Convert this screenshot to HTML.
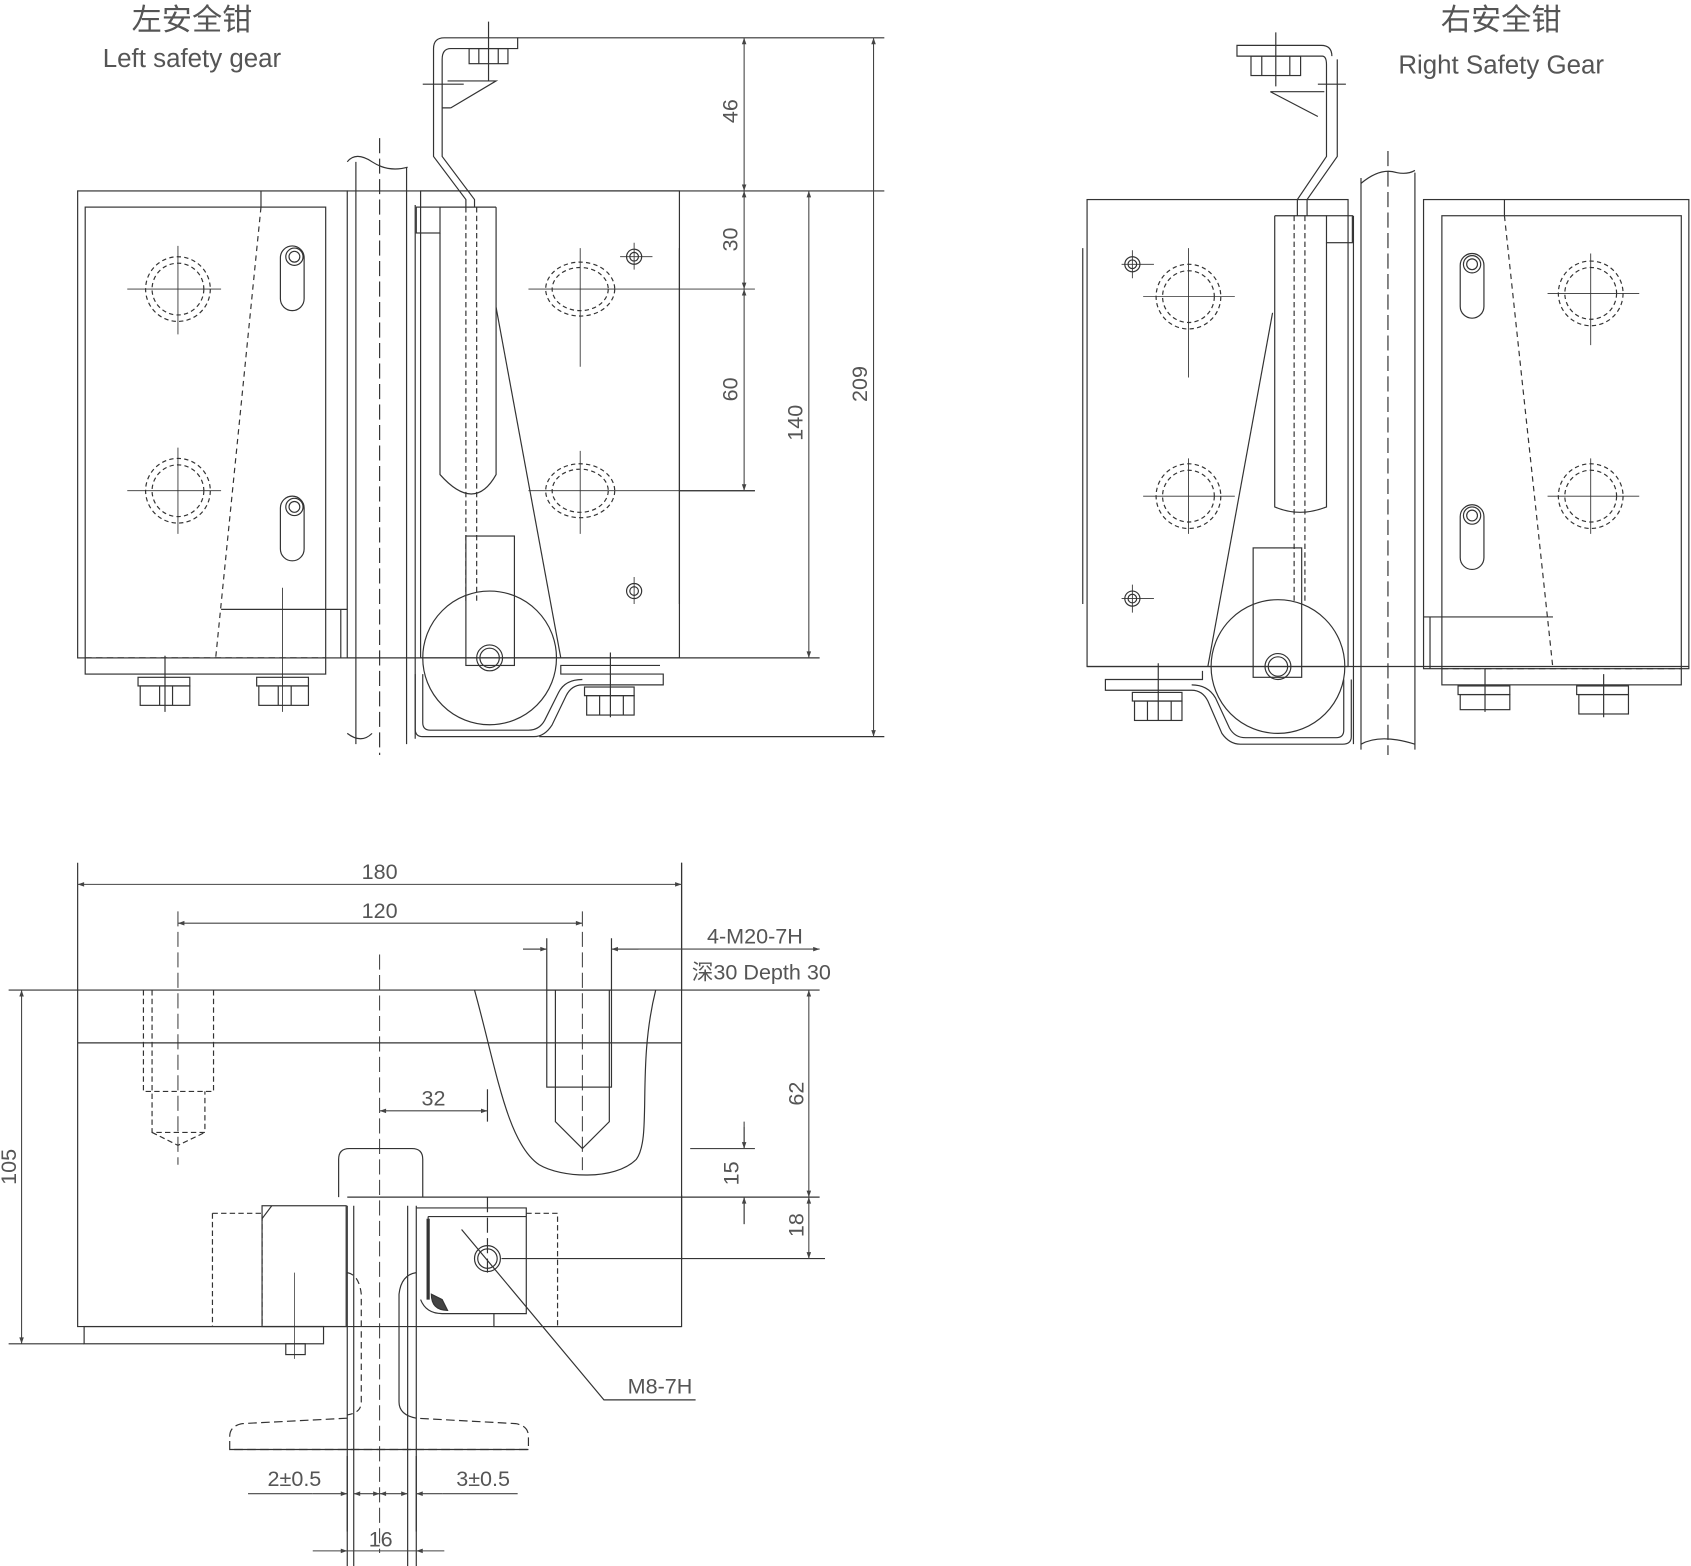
<!DOCTYPE html>
<html><head><meta charset="utf-8"><style>
html,body{margin:0;padding:0;background:#fff}
svg{display:block}
text{font-family:"Liberation Sans","Noto Sans CJK SC",sans-serif;fill:#555}
</style></head><body>
<svg width="1691" height="1566" viewBox="0 0 1568 1452" xmlns="http://www.w3.org/2000/svg">
<defs>
<marker id="a" viewBox="0 0 10 10" refX="10" refY="5" markerWidth="14" markerHeight="6" orient="auto-start-reverse" markerUnits="userSpaceOnUse"><path d="M0,1.5 L10,5 L0,8.5z" fill="#444"/></marker>
</defs>
<g fill="none" stroke="#333" stroke-width="1.1">
<!-- ===== LEFT SAFETY GEAR ===== -->
<rect x="72" y="177" width="250" height="433"/>
<rect x="79" y="192" width="223" height="433"/>
<line x1="242" y1="177" x2="242" y2="192"/>
<path d="M242,192 L200,610" stroke-dasharray="5,4"/>
<line x1="79" y1="610" x2="302" y2="610" stroke-dasharray="6,4"/>
<path d="M302,565 L205,565 M302,565 L322,565"/>
<path d="M316,565 L316,610"/>
<!-- holes -->
<g stroke-dasharray="4,3"><circle cx="165" cy="268" r="30"/><circle cx="165" cy="268" r="24"/><circle cx="165" cy="455" r="30"/><circle cx="165" cy="455" r="24"/></g>
<path d="M118,268 H205 M165,228 V310 M118,455 H205 M165,415 V495" stroke-width="0.8"/>
<rect x="260" y="228" width="22" height="60" rx="11"/><circle cx="273" cy="238" r="8"/><circle cx="273" cy="238" r="5"/>
<rect x="260" y="460" width="22" height="60" rx="11"/><circle cx="273" cy="470" r="8"/><circle cx="273" cy="470" r="5"/>
<path d="M262,545 V660" stroke-width="0.8"/>
<!-- bottom nuts left -->
<rect x="128" y="628" width="48" height="8"/><rect x="130" y="636" width="46" height="18"/>
<rect x="238" y="628" width="48" height="8"/><rect x="240" y="636" width="46" height="18"/>
<path d="M153,608 V660 M148,636 V654 M160,636 V654 M258,636 V654 M270,636 V654"/>
<!-- rail -->
<path d="M322,150 Q330,140 345,150 Q360,160 378,155 M322,680 Q335,690 345,680"/>
<path d="M330,150 V690 M377,155 V690 M385,190 V685"/>
<line x1="352" y1="128" x2="352" y2="700" stroke-dasharray="14,5"/>
<!-- right block -->
<rect x="390" y="177" width="240" height="433"/>
<line x1="322" y1="177" x2="820" y2="177"/>
<line x1="630" y1="230" x2="630" y2="560"/>
<rect x="386" y="192" width="22" height="24"/>
<path d="M408,192 H460 M408,216 V440 Q440,476 460,440 V192"/>
<path d="M432,192 V560 M442,192 V560" stroke-dasharray="5,3"/>
<path d="M460,285 L520,610"/>
<rect x="432" y="497" width="45" height="120"/>
<g stroke-dasharray="4,3"><ellipse cx="538" cy="268" rx="32" ry="25"/><ellipse cx="538" cy="268" rx="26" ry="20"/><ellipse cx="538" cy="455" rx="32" ry="25"/><ellipse cx="538" cy="455" rx="26" ry="20"/></g>
<path d="M490,268 H700 M538,230 V340 M490,455 H700 M538,418 V495 M575,238 H605 M588,225 V250 M588,535 V560" stroke-width="0.8"/>
<circle cx="588" cy="238" r="7"/><circle cx="588" cy="238" r="4"/><circle cx="588" cy="548" r="7"/><circle cx="588" cy="548" r="4"/>
<!-- roller -->
<circle cx="454" cy="610" r="62"/>
<circle cx="454" cy="610" r="12"/><circle cx="454" cy="610" r="9"/>
<line x1="322" y1="610" x2="760" y2="610"/>
<!-- bottom bracket -->
<path d="M385,625 V676 Q385,683 392,683 H495 Q505,683 512,672 L525,645 Q530,635 540,635 H615 V625 H520 V617 H612"/>
<path d="M392,625 V670 Q392,677 399,677 H490 Q500,677 505,668 L518,642 Q524,630 540,630"/>
<rect x="542" y="637" width="46" height="8"/><rect x="544" y="645" width="44" height="18"/>
<path d="M566,605 V665 M556,645 V663 M578,645 V663"/>
<!-- top bracket -->
<path d="M402,45 Q402,35 412,35 H480 V45 H418 Q410,45 410,55 V145 L440,185 V192 M402,45 V145 L432,185 V192"/>
<path d="M418,100 L460,75 H415 M418,100 L410,100"/>
<rect x="435" y="45" width="36" height="14"/>
<path d="M444,45 V59 M462,45 V59 M453,20 V75 M392,78 H430"/>
<line x1="480" y1="35" x2="820" y2="35"/>
<line x1="500" y1="683" x2="820" y2="683"/>
<line x1="630" y1="455" x2="700" y2="455"/>
</g>
<!-- dims left -->
<g stroke="#444" stroke-width="1" fill="none">
<line x1="690" y1="35" x2="690" y2="177" marker-start="url(#a)" marker-end="url(#a)"/>
<line x1="690" y1="177" x2="690" y2="268" marker-start="url(#a)" marker-end="url(#a)"/>
<line x1="690" y1="268" x2="690" y2="455" marker-start="url(#a)" marker-end="url(#a)"/>
<line x1="750" y1="177" x2="750" y2="610" marker-start="url(#a)" marker-end="url(#a)"/>
<line x1="810" y1="35" x2="810" y2="683" marker-start="url(#a)" marker-end="url(#a)"/>
</g>
<g font-size="20">
<text transform="translate(684,103) rotate(-90)" text-anchor="middle">46</text>
<text transform="translate(684,222) rotate(-90)" text-anchor="middle">30</text>
<text transform="translate(684,361) rotate(-90)" text-anchor="middle">60</text>
<text transform="translate(744,392) rotate(-90)" text-anchor="middle">140</text>
<text transform="translate(804,356) rotate(-90)" text-anchor="middle">209</text>
</g>
<text x="178" y="28" font-size="28" text-anchor="middle">左安全钳</text>
<text x="178" y="62" font-size="24" text-anchor="middle">Left safety gear</text>

<!-- ===== RIGHT SAFETY GEAR ===== -->
<g fill="none" stroke="#333" stroke-width="1.1">
<rect x="1008" y="185" width="242" height="433"/>
<line x1="1004" y1="230" x2="1004" y2="560"/>
<rect x="1320" y="185" width="246" height="435"/>
<rect x="1337" y="200" width="222" height="435"/>
<line x1="1395" y1="185" x2="1395" y2="200"/>
<path d="M1395,200 L1440,620" stroke-dasharray="5,4"/>
<path d="M1320,572 H1440 M1326,572 V620"/>
<line x1="1337" y1="620" x2="1559" y2="620" stroke-dasharray="6,4"/>
<g stroke-dasharray="4,3"><circle cx="1102" cy="275" r="30"/><circle cx="1102" cy="275" r="24"/><circle cx="1102" cy="460" r="30"/><circle cx="1102" cy="460" r="24"/><circle cx="1475" cy="272" r="30"/><circle cx="1475" cy="272" r="24"/><circle cx="1475" cy="460" r="30"/><circle cx="1475" cy="460" r="24"/></g>
<path d="M1060,275 H1145 M1102,230 V350 M1060,460 H1145 M1102,425 V495 M1435,272 H1520 M1475,235 V320 M1435,460 H1520 M1475,425 V495 M1040,245 H1070 M1050,232 V258 M1040,555 H1070 M1050,542 V568" stroke-width="0.8"/>
<circle cx="1050" cy="245" r="7"/><circle cx="1050" cy="245" r="4"/><circle cx="1050" cy="555" r="7"/><circle cx="1050" cy="555" r="4"/>
<rect x="1354" y="235" width="22" height="60" rx="11"/><circle cx="1365" cy="245" r="8"/><circle cx="1365" cy="245" r="5"/>
<rect x="1354" y="468" width="22" height="60" rx="11"/><circle cx="1365" cy="478" r="8"/><circle cx="1365" cy="478" r="5"/>
<!-- rail -->
<path d="M1262,170 Q1280,155 1295,160 Q1305,162 1312,158 M1262,690 Q1280,680 1312,690"/>
<path d="M1255,200 V690 M1262,165 V695 M1312,160 V695"/>
<line x1="1287" y1="140" x2="1287" y2="700" stroke-dasharray="14,5"/>
<line x1="1008" y1="618" x2="1566" y2="618"/>
<!-- inner parts -->
<rect x="1230" y="200" width="24" height="25"/>
<path d="M1182,200 H1230 M1182,200 V470 Q1205,480 1230,470 V225"/>
<path d="M1200,200 V560 M1210,200 V560" stroke-dasharray="5,3"/>
<path d="M1180,290 L1120,618"/>
<rect x="1162" y="508" width="45" height="120"/>
<circle cx="1185" cy="618" r="62"/><circle cx="1185" cy="618" r="12"/><circle cx="1185" cy="618" r="9"/>
<!-- bottom bracket -->
<path d="M1253,630 V683 Q1253,690 1245,690 H1150 Q1140,690 1133,680 L1120,650 Q1115,640 1105,640 H1025 V630 H1115 V622"/>
<path d="M1246,630 V677 Q1246,684 1239,684 H1155 Q1145,684 1140,675 L1127,647 Q1120,635 1105,635"/>
<rect x="1050" y="642" width="46" height="8"/><rect x="1052" y="650" width="44" height="18"/>
<path d="M1074,615 V668 M1064,650 V668 M1086,650 V668"/>
<rect x="1352" y="636" width="48" height="8"/><rect x="1354" y="644" width="46" height="14"/>
<rect x="1462" y="636" width="48" height="8"/><rect x="1464" y="644" width="46" height="18"/>
<path d="M1377,620 V660 M1487,625 V665"/>
<!-- top bracket -->
<path d="M1235,52 Q1235,42 1225,42 H1147 V52 H1226 Q1230,52 1230,60 V145 L1203,185 V200 M1240,55 V145 L1212,185 V200"/>
<path d="M1222,108 L1178,85 H1228"/>
<rect x="1160" y="52" width="46" height="18"/>
<path d="M1170,52 V70 M1196,52 V70 M1183,30 V80 M1222,78 H1248"/>
</g>
<text x="1392" y="28" font-size="28" text-anchor="middle">右安全钳</text>
<text x="1392" y="68" font-size="24" text-anchor="middle">Right Safety Gear</text>

<!-- ===== BOTTOM VIEW ===== -->
<g fill="none" stroke="#333" stroke-width="1.1">
<path d="M72,800 V1230 H632 V800"/>
<line x1="8" y1="918" x2="760" y2="918"/>
<line x1="72" y1="967" x2="632" y2="967"/>
<line x1="632" y1="1108" x2="632" y2="1168"/>
<path d="M440,918 C460,990 470,1060 500,1080 C520,1092 570,1095 590,1075 C605,1055 590,990 608,918"/>
<rect x="507" y="918" width="60" height="90"/>
<path d="M515,918 V1040 L540,1065 L565,1040 V918"/>
<path d="M540,845 V1085 M165,845 V1080 M352,885 V1440" stroke-dasharray="14,5" stroke-width="0.9"/>
<g stroke-dasharray="5,3"><path d="M133,918 V1012 H198 V918 M141,918 V1050 H190 V1012 M141,1050 L165,1062 L190,1050"/></g>
<path d="M314,1110 V1075 Q314,1065 324,1065 H382 Q392,1065 392,1075 V1110"/>
<line x1="322" y1="1110" x2="760" y2="1110"/>
<path d="M197,1125 H243 V1230 M197,1125 V1230" stroke-dasharray="5,3"/>
<rect x="243" y="1118" width="78" height="112"/>
<path d="M243,1130 L252,1118"/>
<rect x="78" y="1230" width="222" height="16"/>
<line x1="8" y1="1246" x2="78" y2="1246"/>
<rect x="265" y="1246" width="18" height="10"/>
<path d="M273,1180 V1260" stroke-width="0.7"/>
<path d="M322,1118 V1452 M328,1118 V1452 M378,1118 V1452 M386,1118 V1452"/>
<path d="M386,1120 H488 V1218 H410 Q395,1218 390,1205"/>
<path d="M397,1128 H488 M397,1128 V1200"/>
<path d="M488,1125 H517 V1230" stroke-dasharray="5,3"/>
<path d="M458,1218 V1230 H632"/>
<path d="M397,1130 V1205" stroke-width="3"/>
<path d="M400,1200 Q400,1215 415,1215 L410,1205z" fill="#444"/>
<circle cx="452" cy="1167" r="12"/><circle cx="452" cy="1167" r="9"/>
<path d="M428,1140 L560,1298 H645"/>
<line x1="465" y1="1167" x2="765" y2="1167"/>
<line x1="452" y1="1110" x2="452" y2="1180" stroke-dasharray="14,5"/>
<path d="M322,1180 Q333,1182 335,1200 V1300 Q335,1310 322,1312" stroke-dasharray="6,4"/>
<path d="M386,1180 Q372,1182 370,1200 V1300 Q370,1312 386,1315"/>
<path d="M322,1315 L225,1320 Q213,1322 213,1332 V1344 H490 V1332 Q490,1322 478,1320 L386,1315" stroke-dasharray="8,4"/>
<path d="M213,1344 H490"/>
<line x1="452" y1="1010" x2="452" y2="1040"/>
<path d="M507,870 V918 M567,870 V918 M632,800 V918"/>
<path d="M322,1350 V1420 M386,1350 V1420"/>
</g>
<g stroke="#444" stroke-width="1" fill="none">
<line x1="72" y1="820" x2="632" y2="820" marker-start="url(#a)" marker-end="url(#a)"/>
<line x1="165" y1="856" x2="540" y2="856" marker-start="url(#a)" marker-end="url(#a)"/>
<path d="M485,880 H507 M567,880 H760" marker-end="url(#a)"/>
<path d="M485,880 H507" marker-end="url(#a)"/>
<line x1="567" y1="880" x2="592" y2="880" marker-start="url(#a)"/>
<line x1="352" y1="1030" x2="452" y2="1030" marker-start="url(#a)" marker-end="url(#a)"/>
<line x1="20" y1="918" x2="20" y2="1246" marker-start="url(#a)" marker-end="url(#a)"/>
<line x1="750" y1="918" x2="750" y2="1110" marker-start="url(#a)" marker-end="url(#a)"/>
<line x1="750" y1="1110" x2="750" y2="1167" marker-start="url(#a)" marker-end="url(#a)"/>
<path d="M690,1040 V1065 M690,1110 V1135" />
<line x1="690" y1="1065" x2="690" y2="1065"/>
<line x1="690" y1="1045" x2="690" y2="1065" marker-end="url(#a)"/>
<line x1="690" y1="1135" x2="690" y2="1110" marker-end="url(#a)"/>
<line x1="640" y1="1065" x2="700" y2="1065"/>
<line x1="290" y1="1385" x2="322" y2="1385" marker-end="url(#a)"/>
<line x1="328" y1="1385" x2="352" y2="1385" marker-start="url(#a)" marker-end="url(#a)"/>
<line x1="352" y1="1385" x2="378" y2="1385" marker-start="url(#a)" marker-end="url(#a)"/>
<line x1="386" y1="1385" x2="410" y2="1385" marker-start="url(#a)"/>
<line x1="230" y1="1385" x2="290" y2="1385"/>
<line x1="410" y1="1385" x2="480" y2="1385"/>
<line x1="290" y1="1438" x2="322" y2="1438" marker-end="url(#a)"/>
<line x1="322" y1="1438" x2="386" y2="1438"/>
<line x1="386" y1="1438" x2="412" y2="1438" marker-start="url(#a)"/>
</g>
<g font-size="20">
<text x="352" y="815" text-anchor="middle">180</text>
<text x="352" y="851" text-anchor="middle">120</text>
<text x="700" y="875" text-anchor="middle">4-M20-7H</text>
<text x="706" y="908" text-anchor="middle">深30 Depth 30</text>
<text x="402" y="1025" text-anchor="middle">32</text>
<text x="612" y="1292" text-anchor="middle">M8-7H</text>
<text transform="translate(15,1082) rotate(-90)" text-anchor="middle">105</text>
<text transform="translate(745,1014) rotate(-90)" text-anchor="middle">62</text>
<text transform="translate(685,1088) rotate(-90)" text-anchor="middle">15</text>
<text transform="translate(745,1136) rotate(-90)" text-anchor="middle">18</text>
<text x="273" y="1378" text-anchor="middle">2±0.5</text>
<text x="448" y="1378" text-anchor="middle">3±0.5</text>
<text x="353" y="1434" text-anchor="middle">16</text>
</g>
</svg>
</body></html>
